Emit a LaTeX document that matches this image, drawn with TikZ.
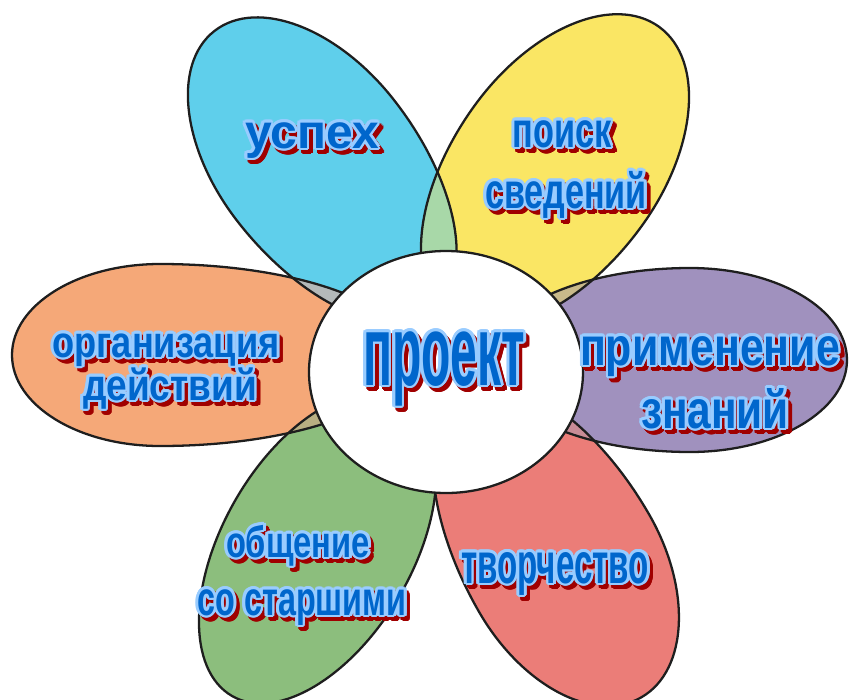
\documentclass[tikz,border=0pt]{standalone}
\usepackage{fontspec}
\setmainfont{Liberation Sans}
\usepackage{graphicx}

\definecolor{petalblue}{HTML}{5FCFEB}
\definecolor{petalyellow}{HTML}{FAE664}
\definecolor{petalpurple}{HTML}{A091BE}
\definecolor{petalred}{HTML}{EB7D78}
\definecolor{petalgreen}{HTML}{8CBE7D}
\definecolor{petalorange}{HTML}{F5A878}
\definecolor{mixby}{HTML}{A8D8A8}
\definecolor{mixbo}{HTML}{B4B9B9}
\definecolor{mixyp}{HTML}{C8B98A}
\definecolor{mixpr}{HTML}{C88C96}
\definecolor{mixrg}{HTML}{BEA078}
\definecolor{mixgo}{HTML}{B9AF82}
\definecolor{outline}{HTML}{1E1E1E}
\definecolor{inkblue}{HTML}{0066CC}
\definecolor{rimblue}{HTML}{99CCFF}
\definecolor{shadowred}{HTML}{A00000}

\tikzstyle{rim} = [draw=outline, line width=1.3pt]
\tikzstyle{lbl} = [inner sep=0pt, anchor=base, font=\bfseries]

% word art: one copy at dx, dy in a colour
\newcommand\wacopy[3]{\rlap{\kern#1\raisebox{#2}{\resizebox{\wawd}{\height}{\color{#3}\watxt}}}}
% word art: size (pt), width, text
\newcommand\wa[3]{\fontsize{#1pt}{#1pt}\selectfont\def\wawd{#2}\def\watxt{#3}%
  \foreach \ang in {0,22.5,...,337.5}{\pgfmathsetmacro\cx{2+1.5*cos(\ang)}\pgfmathsetmacro\cy{-2.3+1.5*sin(\ang)}\wacopy{\cx pt}{\cy pt}{shadowred}}%
  \foreach \ang in {0,22.5,...,337.5}{\pgfmathsetmacro\cx{1.5*cos(\ang)}\pgfmathsetmacro\cy{1.5*sin(\ang)}\wacopy{\cx pt}{\cy pt}{rimblue}}%
  \resizebox{#2}{\height}{\color{inkblue}#3}}

% egg: centre x, centre y, angle to the core, far half, near half, half width
\newcommand\egg[6]{[shift={(#1,#2)},rotate=#3] (0,#6)
  arc[start angle=90,end angle=270,x radius=#4,y radius=#6]
  arc[start angle=-90,end angle=90,x radius=#5,y radius=#6] -- cycle}

\newcommand\eggblue{\egg{316}{161}{-52}{165}{190}{99}}
\newcommand\eggyellow{\egg{558}{166}{-126}{172}{185}{103}}
\newcommand\eggpurple{\egg{690}{360}{180}{157}{200}{92}}
\newcommand\eggred{\egg{564}{563}{120}{155}{200}{98}}
\newcommand\egggreen{\egg{318}{547}{60}{172}{170}{95}}
\newcommand\eggorange{\egg{160}{355}{0}{148}{250}{91}}

\begin{document}
\begin{tikzpicture}[x=0.02cm, y=-0.02cm]
\useasboundingbox (0,0) rectangle (849,700);

% petals
\fill[petalblue] \eggblue;
\fill[petalyellow] \eggyellow;
\fill[petalpurple] \eggpurple;
\fill[petalred] \eggred;
\fill[petalgreen] \egggreen;
\fill[petalorange] \eggorange;

% where two petals overlap
\begin{scope} \clip \eggblue; \fill[mixby] \eggyellow; \end{scope}
\begin{scope} \clip \eggyellow; \fill[mixyp] \eggpurple; \end{scope}
\begin{scope} \clip \eggpurple; \fill[mixpr] \eggred; \end{scope}
\begin{scope} \clip \eggred; \fill[mixrg] \egggreen; \end{scope}
\begin{scope} \clip \egggreen; \fill[mixgo] \eggorange; \end{scope}
\begin{scope} \clip \eggorange; \fill[mixbo] \eggblue; \end{scope}

\draw[rim] \eggblue;
\draw[rim] \eggyellow;
\draw[rim] \eggpurple;
\draw[rim] \eggred;
\draw[rim] \egggreen;
\draw[rim] \eggorange;

% core
\filldraw[rim, fill=white] (446,372) ellipse [x radius=137, y radius=121];

\node[lbl] (proekt) at (444,385) {\wa{56.8}{3.24cm}{проект}};
\node[lbl] (uspeh) at (312,148) {\wa{27.3}{2.68cm}{успех}};
\node[lbl] (poisk) at (562,147) {\wa{28.4}{1.98cm}{поиск}};
\node[lbl] (svedeniy) at (566,208) {\wa{28.4}{3.24cm}{сведений}};
\node[lbl] (primenenie) at (710,365) {\wa{30.6}{5.2cm}{применение}};
\node[lbl] (znaniy) at (715,428) {\wa{30.6}{2.96cm}{знаний}};
\node[lbl] (tvorchestvo) at (555,583) {\wa{32.8}{3.76cm}{творчество}};
\node[lbl] (obshchenie) at (298,557) {\wa{25}{2.88cm}{общение}};
\node[lbl] (sostarshimi) at (302,615) {\wa{27.3}{4.18cm}{со старшими}};
\node[lbl] (organizaciya) at (166,357) {\wa{25}{4.54cm}{организация}};
\node[lbl] (deystviy) at (170,400) {\wa{25}{3.48cm}{действий}};
\end{tikzpicture}
\end{document}
